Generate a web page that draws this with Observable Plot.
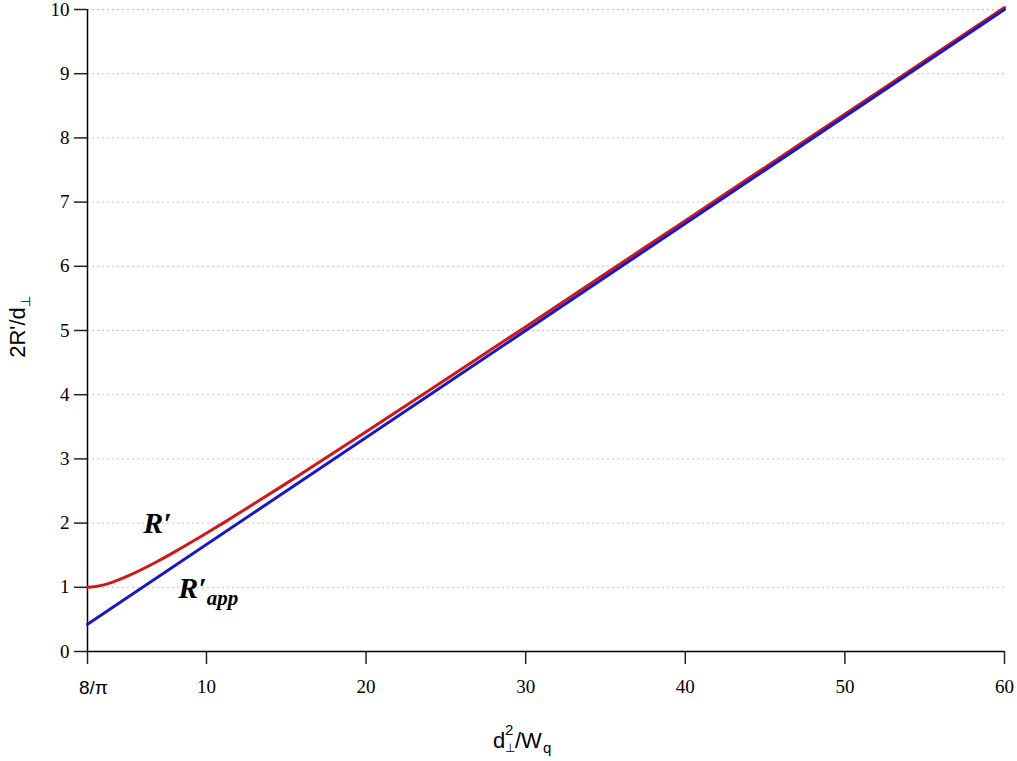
<!DOCTYPE html>
<html><head><meta charset="utf-8">
<script src="https://cdn.jsdelivr.net/npm/d3@7"></script>
<script src="https://cdn.jsdelivr.net/npm/@observablehq/plot@0.6"></script>
<style>body{margin:0;background:#fff} svg{display:block}</style>
</head><body><div id="chart"></div>
<script>
// x = d⊥²/Wq, starting at 8/π
const X0 = 2.546;
const redX = [2.546, 2.784, 3.152, 3.563, 4.030, 4.566, 5.194, 5.942, 6.857, 8.009, 9.518, 11.039, 11.599, 14.680, 16.863, 19.760, 23.800, 29.841, 35.159, 39.880, 46.050, 52.082, 60.0];
const redY = [1.000, 1.003, 1.015, 1.038, 1.073, 1.122, 1.188, 1.277, 1.394, 1.552, 1.771, 2.000, 2.086, 2.568, 2.916, 3.384, 4.042, 5.033, 5.911, 6.692, 7.714, 8.715, 10.030];
const blueX = [2.546, 60];
const blueY = [0.424, 10];
const xTickValues = [2.546, 10, 20, 30, 40, 50, 60];
const xTickLabels = ["8/π", "10", "20", "30", "40", "50", "60"];
const yTickValues = [0, 1, 2, 3, 4, 5, 6, 7, 8, 9, 10];
const gridValues = [1, 2, 3, 4, 5, 6, 7, 8, 9, 10];
const labelRx = 6.07, labelRy = 1.84;
const labelAppX = 8.27, labelAppY = 0.82;

const red = redX.map((x, i) => ({x, y: redY[i]}));
const blue = blueX.map((x, i) => ({x, y: blueY[i]}));

const plot = Plot.plot({
  width: 1017, height: 761,
  marginLeft: 87, marginRight: 13, marginTop: 9, marginBottom: 110,
  style: {fontFamily: "'Liberation Serif', 'Times New Roman', serif", fontSize: "19px", color: "#000", background: "#fff"},
  x: {domain: [X0, 60]},
  y: {domain: [0, 10]},
  marks: [
    Plot.ruleY(gridValues, {stroke: "#c4c4c4", strokeDasharray: "2,3", strokeWidth: 1}),
    Plot.axisY({ticks: yTickValues, tickSize: 13, tickPadding: 5, label: null, stroke: "#222", strokeWidth: 1.5, fontSize: 19}),
    Plot.axisX({ticks: xTickValues, tickSize: 13, tickPadding: 15, label: null, stroke: "#222", strokeWidth: 1.5, fontSize: 19,
      tickFormat: d => d === X0 ? "" : xTickLabels[xTickValues.indexOf(d)]}),
    Plot.text([{x: X0, y: 0, t: xTickLabels[0]}], {x: "x", y: "y", text: "t", dy: 36, dx: 6, fontFamily: "'Liberation Sans', Arial, sans-serif", fontSize: 19, fill: "#000"}),
    Plot.ruleX([X0], {stroke: "#000", strokeWidth: 1.5}),
    Plot.ruleY([0], {stroke: "#000", strokeWidth: 1.5}),
    Plot.line(red, {x: "x", y: "y", stroke: "#d01818", strokeWidth: 3, curve: "catmull-rom"}),
    Plot.line(blue, {x: "x", y: "y", stroke: "#1818c8", strokeWidth: 3})
  ]
});
document.getElementById("chart").appendChild(plot);

const svg = d3.select(plot);
const sx = plot.scale("x"), sy = plot.scale("y");

// Curve annotations
svg.append("text")
  .attr("x", sx.apply(labelRx)).attr("y", sy.apply(labelRy))
  .attr("text-anchor", "start")
  .attr("font-family", "'Liberation Serif', serif").attr("font-size", 30)
  .attr("font-weight", "bold").attr("font-style", "italic").attr("fill", "#000")
  .text("R′");
const app = svg.append("text")
  .attr("x", sx.apply(labelAppX)).attr("y", sy.apply(labelAppY))
  .attr("text-anchor", "start")
  .attr("font-family", "'Liberation Serif', serif").attr("font-size", 30)
  .attr("font-weight", "bold").attr("font-style", "italic").attr("fill", "#000");
app.append("tspan").text("R′");
app.append("tspan").attr("font-size", 21).attr("dy", 7).text("app");

// Y axis title
const yt = svg.append("text")
  .attr("transform", "translate(25,327) rotate(-90)")
  .attr("text-anchor", "middle")
  .attr("font-family", "'Liberation Sans', Arial, sans-serif").attr("font-size", 22).attr("fill", "#000");
yt.append("tspan").text("2R'/d");
yt.append("tspan").attr("font-size", 13).attr("dy", 5).text("⊥");

// X axis title
const xt = svg.append("text")
  .attr("text-anchor", "start")
  .attr("font-family", "'Liberation Sans', Arial, sans-serif").attr("font-size", 22).attr("fill", "#000");
xt.append("tspan").attr("x", 493).attr("y", 748).text("d");
xt.append("tspan").attr("x", 505).attr("y", 752).attr("font-size", 12).text("⊥");
xt.append("tspan").attr("x", 505).attr("y", 735).attr("font-size", 15).text("2");
xt.append("tspan").attr("x", 515).attr("y", 748).text("/W");
xt.append("tspan").attr("x", 543).attr("y", 753).attr("font-size", 15).text("q");
</script>
</body></html>
